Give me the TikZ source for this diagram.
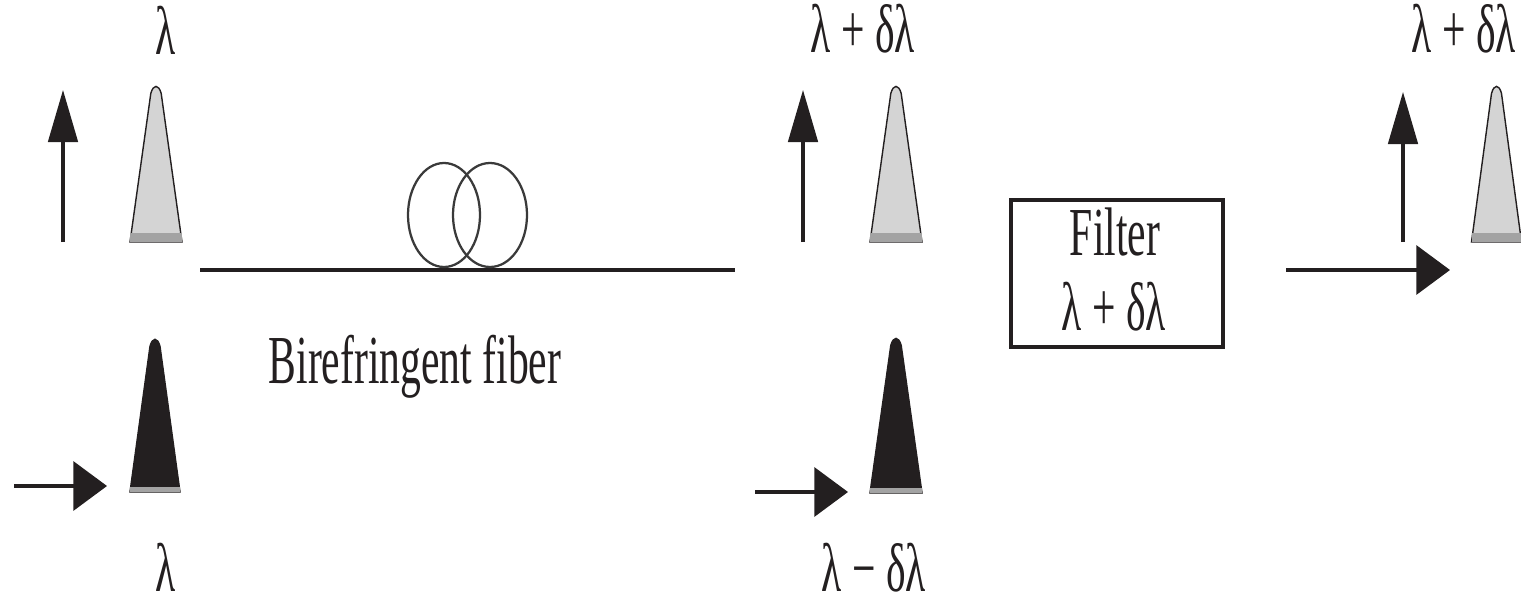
\documentclass[tikz,border=0pt]{standalone}
\usepackage{fontspec}
\setmainfont{Liberation Serif}
\usetikzlibrary{arrows.meta}
\definecolor{ink}{HTML}{231F20}
\definecolor{pulsegray}{HTML}{D4D4D4}
\definecolor{bandgray}{HTML}{A3A3A3}
\definecolor{loopgray}{HTML}{3A3A3A}
\newcommand{\vst}[1]{\scalebox{1}[1.65]{#1}}
\newcommand{\drawpulse}[6]{%
  \filldraw[fill=#5, draw=ink, line width=1pt]
    ({#1-#4},{#3}) -- ({#1-0.2*#4},{#2+0.06*(#3-#2)})
    .. controls ({#1-0.1*#4},{#2}) and ({#1+0.1*#4},{#2}) .. ({#1+0.2*#4},{#2+0.06*(#3-#2)})
    -- ({#1+#4},{#3}) -- cycle;
  \fill[bandgray] ({#1-#4},{#3-#6}) rectangle ({#1+#4},{#3});
}
\begin{document}
\begin{tikzpicture}[x=0.025cm, y=-0.025cm,
  lbl/.style={anchor=base, inner sep=0pt, text=ink, font=\fontsize{29.6}{32}\selectfont},
  uparrow/.style={draw=ink, line width=2.2pt, -{Triangle[length=37pt,width=21pt]}},
  rarrow/.style={draw=ink, line width=2.2pt, -{Triangle[length=24pt,width=35pt]}},
  fiberline/.style={draw=ink, line width=3.2pt},
  loopline/.style={draw=loopgray, line width=1.6pt},
  filterbox/.style={draw=ink, line width=3.2pt, minimum width=5.3cm, minimum height=3.675cm, inner sep=0pt}]
\useasboundingbox (0,0) rectangle (1521,604);

% pulses
\drawpulse{156}{84}{242}{26}{pulsegray}{9}
\drawpulse{896}{84}{242}{26}{pulsegray}{9}
\drawpulse{1496.5}{84}{242}{25}{pulsegray}{9}
\drawpulse{155}{337}{492}{25}{ink}{5}
\drawpulse{896}{336}{493}{26}{ink}{5}

% coordinates for arrows
\coordinate (u1s) at (63,242);  \coordinate (u1e) at (63,90);
\coordinate (u2s) at (803,242); \coordinate (u2e) at (803,90);
\coordinate (u3s) at (1403,242); \coordinate (u3e) at (1403,92);
\coordinate (r1s) at (14,486);  \coordinate (r1e) at (107,486);
\coordinate (r2s) at (755,492); \coordinate (r2e) at (848,492);
\coordinate (r3s) at (1286,270); \coordinate (r3e) at (1450,270);
\coordinate (fibs) at (200,270); \coordinate (fibe) at (735,270);

\draw[uparrow] (u1s) -- (u1e);
\draw[uparrow] (u2s) -- (u2e);
\draw[uparrow] (u3s) -- (u3e);
\draw[rarrow] (r1s) -- (r1e);
\draw[rarrow] (r2s) -- (r2e);
\draw[rarrow] (r3s) -- (r3e);

% fiber with loops
\draw[fiberline] (fibs) -- (fibe);
\draw[loopline] (444,215) ellipse [x radius=36, y radius=52];
\draw[loopline] (490,215) ellipse [x radius=37, y radius=52];

% filter
\node[filterbox] (filter) at (1117,273.5) {};
\node[lbl] (filtertxt) at (1115,255) {\vst{Filter}};
\node[lbl] (filterlam) at (1114,330) {\vst{λ + δλ}};

% labels
\node[lbl] (lamtop) at (166,55) {\vst{λ}};
\node[lbl] (lambot) at (166,591) {\vst{λ}};
\node[lbl] (lpd1) at (863,53) {\vst{λ + δλ}};
\node[lbl] (lmd) at (874,591) {\vst{λ − δλ}};
\node[lbl] (lpd2) at (1464,53) {\vst{λ + δλ}};
\node[lbl] (fibtxt) at (415,383) {\vst{Birefringent fiber}};
\end{tikzpicture}
\end{document}
